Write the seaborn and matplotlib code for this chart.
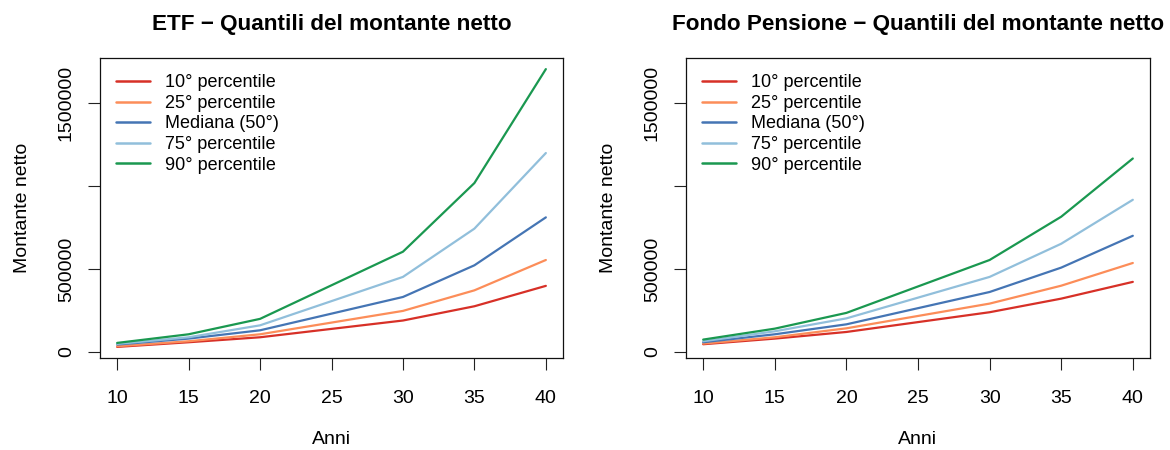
import matplotlib
matplotlib.use("Agg")
import matplotlib.pyplot as plt
import seaborn as sns
import pandas as pd
import numpy as np

anni = [10, 15, 20, 30, 35, 40]
serie = ["10° percentile", "25° percentile", "Mediana (50°)", "75° percentile", "90° percentile"]
colori = ["#D73027", "#FC8D59", "#4575B4", "#91BFDB", "#1A9850"]

etf_p10 = [30000, 58000, 88000, 189000, 275000, 398000]
etf_p25 = [34000, 64000, 106000, 247000, 371000, 554000]
etf_p50 = [44000, 80000, 130000, 331000, 522000, 811000]
etf_p75 = [48000, 88000, 160000, 452000, 743000, 1199000]
etf_p90 = [54000, 106000, 199000, 604000, 1018000, 1705000]

fp_p10 = [46000, 80000, 120000, 239000, 321000, 422000]
fp_p25 = [50000, 88000, 142000, 291000, 399000, 536000]
fp_p50 = [58000, 106000, 166000, 361000, 508000, 700000]
fp_p75 = [64000, 124000, 202000, 452000, 652000, 917000]
fp_p90 = [74000, 140000, 235000, 554000, 815000, 1166000]

titoli = ["ETF \u2212 Quantili del montante netto",
          "Fondo Pensione \u2212 Quantili del montante netto"]

def long_df(series_list):
    rows = []
    for name, vals in zip(serie, series_list):
        for a, v in zip(anni, vals):
            rows.append({"Anni": a, "Montante": v, "Serie": name})
    return pd.DataFrame(rows)

dfs = [long_df([etf_p10, etf_p25, etf_p50, etf_p75, etf_p90]),
       long_df([fp_p10, fp_p25, fp_p50, fp_p75, fp_p90])]

sns.set_style("white")
plt.rcParams["font.family"] = ["Liberation Sans", "DejaVu Sans"]
plt.rcParams["text.color"] = "black"
plt.rcParams["axes.labelcolor"] = "black"
plt.rcParams["xtick.color"] = "black"
plt.rcParams["ytick.color"] = "black"

fig = plt.figure(figsize=(11.7, 4.5), dpi=100)
pos = [[100/1170, 92/450, 463/1170, 300/450],
       [686/1170, 92/450, 464/1170, 300/450]]

allv = pd.concat(dfs)["Montante"]
lo, hi = allv.min(), allv.max()
pad = 0.04 * (hi - lo)

for i in range(2):
    ax = fig.add_axes(pos[i])
    sns.lineplot(data=dfs[i], x="Anni", y="Montante", hue="Serie",
                 hue_order=serie, palette=colori, linewidth=1.6, ax=ax,
                 legend=True)
    ax.set_xlim(10 - 0.04 * 30, 40 + 0.04 * 30)
    ax.set_ylim(lo - pad, hi + pad)
    ax.set_xticks([10, 15, 20, 25, 30, 35, 40])
    ax.set_xticklabels(["10", "15", "20", "25", "30", "35", "40"], fontsize=14)
    ax.set_yticks([0, 500000, 1000000, 1500000])
    ax.set_yticklabels(["0", "500000", "", "1500000"], fontsize=14,
                       rotation=90, va="center")
    ax.tick_params(axis="both", direction="out", length=8.5, width=0.8,
                   color="#222222", left=True, bottom=True)
    ax.tick_params(axis="x", pad=14.5)
    ax.tick_params(axis="y", pad=9.5)
    for s in ax.spines.values():
        s.set_visible(True)
        s.set_color("#111111")
        s.set_linewidth(0.9)
    ax.set_xlabel("Anni", fontsize=14, labelpad=17)
    ax.set_ylabel("Montante netto", fontsize=14, labelpad=19.5)
    ax.set_title(titoli[i], fontsize=16.2, fontweight="bold", pad=20)
    leg = ax.legend(loc="upper left", frameon=False, fontsize=13,
                    handlelength=1.85, handletextpad=0.83, labelspacing=0.2,
                    borderaxespad=0.5, bbox_to_anchor=(0.0, 1.0))
    for line in leg.get_lines():
        line.set_linewidth(1.8)

fig.savefig("out.png", dpi=100)
